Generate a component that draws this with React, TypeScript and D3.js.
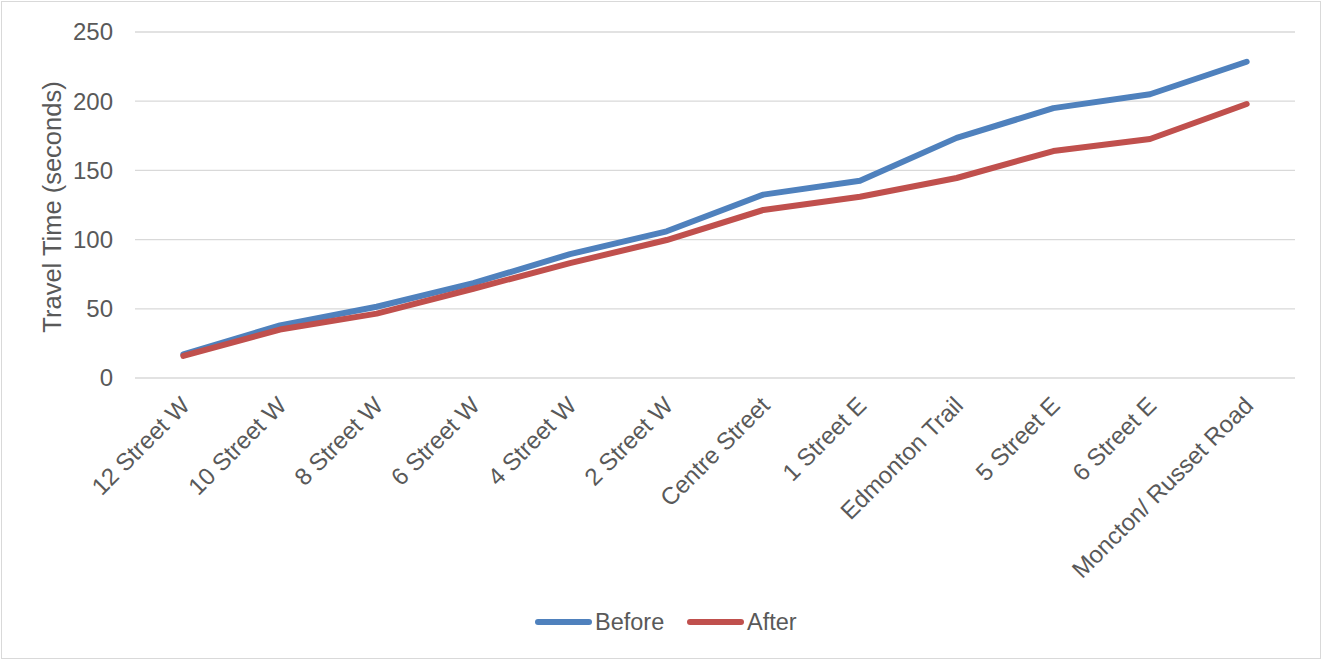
import React from "react";
import * as d3 from "d3";

const categories = [
  "12 Street W",
  "10 Street W",
  "8 Street W",
  "6 Street W",
  "4 Street W",
  "2 Street W",
  "Centre Street",
  "1 Street E",
  "Edmonton Trail",
  "5 Street E",
  "6 Street E",
  "Moncton/ Russet Road",
];

const beforeValues = [17, 38, 51.5, 68.5, 89.5, 106, 132.5, 142.5, 173.5, 195, 205, 228.5];
const afterValues = [16, 35, 46.5, 64.5, 83, 99.7, 121.4, 131, 144.5, 164, 172.7, 198];

const yTicks = [0, 50, 100, 150, 200, 250];

const seriesList = [
  { name: "Before", values: beforeValues, color: "#4F81BD" },
  { name: "After", values: afterValues, color: "#C0504D" },
];

const W = 1322;
const H = 660;
const plot = { left: 135, right: 1295, top: 32, bottom: 378 };
const FONT = "'Liberation Sans', Arial, sans-serif";
const TEXT = "#595959";
const FS = 24;

export default function App() {
  const x = d3
    .scaleBand<string>()
    .domain(categories)
    .range([plot.left, plot.right]);
  const y = d3.scaleLinear().domain([0, 250]).range([plot.bottom, plot.top]);

  const line = d3
    .line<number>()
    .x((_, i) => (x(categories[i]) as number) + x.bandwidth() / 2)
    .y((d) => y(d));

  return (
    <svg
      width={W}
      height={H}
      style={{ position: "absolute", left: 0, top: 0, display: "block" }}
      fontFamily={FONT}
    >
      <rect x={0} y={0} width={W} height={H} fill="#fff" />
      <rect
        x={1.5}
        y={1.5}
        width={W - 3}
        height={H - 3}
        fill="none"
        stroke="#d9d9d9"
        strokeWidth={1}
      />

      {yTicks.map((t) => (
        <g key={t}>
          <line
            x1={plot.left}
            x2={plot.right}
            y1={y(t)}
            y2={y(t)}
            stroke="#d9d9d9"
            strokeWidth={1.3}
          />
          <text
            x={113}
            y={y(t)}
            dy="0.35em"
            textAnchor="end"
            fontSize={FS}
            fill={TEXT}
          >
            {t}
          </text>
        </g>
      ))}

      <text
        transform={`translate(61, ${(plot.top + plot.bottom) / 2 + 2}) rotate(-90)`}
        textAnchor="middle"
        fontSize={25.5}
        fill={TEXT}
      >
        Travel Time (seconds)
      </text>

      {categories.map((c) => {
        const cx = (x(c) as number) + x.bandwidth() / 2;
        return (
          <text
            key={c}
            transform={`translate(${cx + 2}, ${plot.bottom + 23}) rotate(-45)`}
            textAnchor="end"
            dy="0.35em"
            fontSize={FS}
            fill={TEXT}
          >
            {c}
          </text>
        );
      })}

      {seriesList.map((s) => (
        <path
          key={s.name}
          d={line(s.values) ?? undefined}
          fill="none"
          stroke={s.color}
          strokeWidth={6}
          strokeLinejoin="round"
          strokeLinecap="round"
        />
      ))}

      {seriesList.map((s, i) => {
        const lx = 538 + i * 152;
        const ly = 622;
        return (
          <g key={s.name}>
            <line
              x1={lx}
              x2={lx + 51}
              y1={ly}
              y2={ly}
              stroke={s.color}
              strokeWidth={6}
              strokeLinecap="round"
            />
            <text x={lx + 57} y={ly} dy="0.35em" fontSize={23.5} fill={TEXT}>
              {s.name}
            </text>
          </g>
        );
      })}
    </svg>
  );
}
